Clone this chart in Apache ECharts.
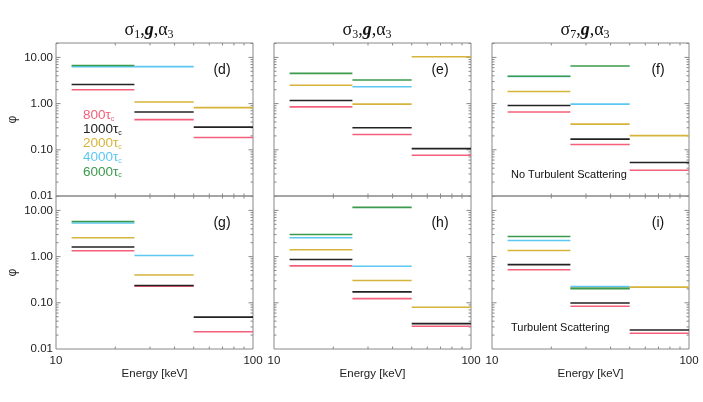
<!DOCTYPE html>
<html><head><meta charset="utf-8">
<script src="https://cdn.jsdelivr.net/npm/echarts@6/dist/echarts.min.js"></script>
<style>html,body{margin:0;padding:0;background:#fff}#c{width:703px;height:402px}</style>
</head><body><div id="c"></div>
<script>
// ---- data ----
const binEdges = [12, 25, 50, 100];               // energy bins [keV]
const tauLabels = ['800', '1000', '2000', '4000', '6000'];
// rows: 800, 1000, 2000, 4000, 6000 tau_c ; columns: 3 energy bins
const panelD = [[2.0, 0.45, 0.184], [2.6, 0.66, 0.31], [null, 1.08, 0.82], [6.3, 6.3, null], [6.7, null, null]];
const panelE = [[0.85, 0.214, 0.076], [1.17, 0.30, 0.106], [2.5, 0.975, 10.35], [null, 2.31, null], [4.5, 3.24, null]];
const panelF = [[0.66, 0.13, 0.036], [0.91, 0.17, 0.053], [1.83, 0.36, 0.203], [3.87, 0.975, null], [3.9, 6.5, null]];
const panelG = [[1.34, 0.23, 0.0237], [1.61, 0.236, 0.049], [2.56, 0.40, null], [5.32, 1.06, null], [5.77, null, null]];
const panelH = [[0.63, 0.123, 0.031], [0.865, 0.172, 0.0354], [1.41, 0.303, 0.080], [2.56, 0.62, null], [3.01, 11.6, null]];
const panelI = [[0.52, 0.084, 0.0219], [0.67, 0.099, 0.0258], [1.36, 0.21, 0.218], [2.23, 0.224, null], [2.73, 0.203, null]];
const panelLetters = ['(d)', '(e)', '(f)', '(g)', '(h)', '(i)'];
const sigmaIdx = ['1', '3', '7'];
const xTickLabels = ['10', '100'];
const yTickLabels = ['0.01', '0.10', '1.00', '10.00'];
const xMinorTicks = [20, 30, 40, 50, 60, 70, 80, 90];
const yMajorTicks = [0.1, 1, 10];
const yMinorTicks = [0.02, 0.03, 0.04, 0.05, 0.06, 0.07, 0.08, 0.09,
                     0.2, 0.3, 0.4, 0.5, 0.6, 0.7, 0.8, 0.9,
                     2, 3, 4, 5, 6, 7, 8, 9, 20];
const noteTop = 'No Turbulent Scattering';
const noteBottom = 'Turbulent Scattering';

// ---- layout / style ----
const X_MIN = 10, X_MAX = 100, Y_MIN = 0.01, Y_MAX = 20.5;
const colors = ['#f4607a', '#222222', '#d6b43a', '#5cc8f2', '#3b9a4c'];
const SANS = 'Liberation Sans, Arial, sans-serif';
const SERIF = 'Liberation Serif, Times New Roman, serif';
const colLeft = [56, 274, 492], colW = 197;
const rowTop = [43, 196], rowH = 153;
const panels = [panelD, panelE, panelF, panelG, panelH, panelI];

const grids = [], xAxes = [], yAxes = [], series = [], graphics = [];

function segRender(params, api) {
  const v = api.value(2);
  const a = api.coord([api.value(0), v]);
  const b = api.coord([api.value(1), v]);
  return { type: 'line', shape: { x1: a[0], y1: a[1], x2: b[0], y2: b[1] },
           style: { stroke: api.visual('color'), lineWidth: 1.6 } };
}
function tickRender(params, api) {
  const v = api.value(0), kind = api.value(1);
  const L = kind === 1 ? 4.5 : 2.5;
  const st = { stroke: '#888', lineWidth: 1 };
  if (kind === 0) {
    const pb = api.coord([v, Y_MIN]), pt = api.coord([v, Y_MAX]);
    return { type: 'group', children: [
      { type: 'line', shape: { x1: pb[0], y1: pb[1], x2: pb[0], y2: pb[1] - L }, style: st },
      { type: 'line', shape: { x1: pt[0], y1: pt[1], x2: pt[0], y2: pt[1] + L }, style: st }] };
  }
  const pl = api.coord([X_MIN, v]), pr = api.coord([X_MAX, v]);
  return { type: 'group', children: [
    { type: 'line', shape: { x1: pl[0], y1: pl[1], x2: pl[0] + L, y2: pl[1] }, style: st },
    { type: 'line', shape: { x1: pr[0], y1: pr[1], x2: pr[0] - L, y2: pr[1] }, style: st }] };
}
const tickData = [].concat(
  xMinorTicks.map(v => [v, 0]),
  yMajorTicks.map(v => [v, 1]),
  yMinorTicks.map(v => [v, 2]));

panels.forEach((pdata, gi) => {
  const row = Math.floor(gi / 3), col = gi % 3;
  grids.push({ left: colLeft[col], top: rowTop[row], width: colW, height: rowH,
               show: true, borderColor: '#888', borderWidth: 1, backgroundColor: 'transparent',
               containLabel: false, outerBoundsMode: 'none' });
  xAxes.push({ type: 'log', logBase: 10, gridIndex: gi, min: X_MIN, max: X_MAX,
    axisLine: { show: false }, axisTick: { show: false }, splitLine: { show: false },
    axisLabel: { show: row === 1, fontSize: 11.5, color: '#222', fontFamily: SANS, margin: 6,
      formatter: v => xTickLabels[Math.round(Math.log10(v)) - 1] },
    name: row === 1 ? 'Energy [keV]' : '', nameLocation: 'middle', nameGap: 19,
    nameTextStyle: { fontSize: 11.5, color: '#222', fontFamily: SANS } });
  yAxes.push({ type: 'log', logBase: 10, gridIndex: gi, min: Y_MIN, max: Y_MAX,
    axisLine: { show: false }, axisTick: { show: false }, splitLine: { show: false },
    axisLabel: { show: col === 0, fontSize: 11.5, color: '#222', fontFamily: SANS, margin: 3,
      showMaxLabel: false,
      formatter: v => yTickLabels[Math.round(Math.log10(v)) + 2] || '' },
    name: col === 0 ? 'φ' : '', nameLocation: 'middle', nameRotate: 90, nameGap: 37,
    nameTextStyle: { fontSize: 12, color: '#222', fontFamily: SANS } });
  pdata.forEach((vals, ti) => {
    const d = [];
    vals.forEach((v, b) => { if (v != null) d.push([binEdges[b], binEdges[b + 1], v]); });
    series.push({ type: 'custom', name: tauLabels[ti], coordinateSystem: 'cartesian2d',
      xAxisIndex: gi, yAxisIndex: gi, itemStyle: { color: colors[ti] },
      encode: { x: [0, 1], y: 2 }, data: d, renderItem: segRender, silent: true, z: 3 + ti });
  });
  series.push({ type: 'custom', coordinateSystem: 'cartesian2d', xAxisIndex: gi, yAxisIndex: gi,
    encode: { x: 0, y: 0 }, data: tickData, renderItem: tickRender, silent: true, clip: false, z: 2 });

  // panel letter
  graphics.push({ type: 'text', x: colLeft[col] + 166, y: rowTop[row] + 27,
    style: { text: panelLetters[gi], fontSize: 14, fontFamily: SANS, fill: '#111',
             align: 'center', verticalAlign: 'middle' } });
});

// column titles
sigmaIdx.forEach((s, col) => {
  graphics.push({ type: 'text', x: colLeft[col] + 93, y: 30,
    style: { text: '{m|σ}{b|' + s + '}{m|,}{g|g}{m|,}{m|α}{b|3}', align: 'center', verticalAlign: 'middle',
      rich: {
        m: { fontSize: 18, fontFamily: SERIF, fill: '#111', lineHeight: 21 },
        g: { fontSize: 18, fontFamily: SERIF, fontStyle: 'italic', fontWeight: 'bold', fill: '#111', lineHeight: 21 },
        b: { fontSize: 12, fontFamily: SERIF, fill: '#111', lineHeight: 12, verticalAlign: 'bottom' }
      } } });
});
graphics.push({ type: 'text', x: 511, y: 175,
  style: { text: noteTop, fontSize: 11, fontFamily: SANS, fill: '#111', align: 'left', verticalAlign: 'middle' } });
graphics.push({ type: 'text', x: 511, y: 328,
  style: { text: noteBottom, fontSize: 11, fontFamily: SANS, fill: '#111', align: 'left', verticalAlign: 'middle' } });

const chart = echarts.init(document.getElementById('c'), null, { renderer: 'canvas' });
chart.setOption({
  backgroundColor: '#fff',
  animation: false,
  grid: grids, xAxis: xAxes, yAxis: yAxes, series: series, graphic: graphics,
  legend: {
    left: 73, top: 103, orient: 'vertical', itemWidth: 0, itemHeight: 0, itemGap: 0,
    selectedMode: false, icon: 'rect',
    textStyle: { fontSize: 13.5, fontFamily: SANS, lineHeight: 14.2,
      rich: { t: { fontSize: 13.5, fontFamily: SANS, lineHeight: 14.2 },
              c: { fontSize: 7, fontFamily: SANS, lineHeight: 7, verticalAlign: 'bottom' } } },
    formatter: n => n + '{t|τ}{c|c}',
    data: tauLabels.map((n, i) => ({ name: n, textStyle: { color: colors[i] } }))
  }
});
</script></body></html>
